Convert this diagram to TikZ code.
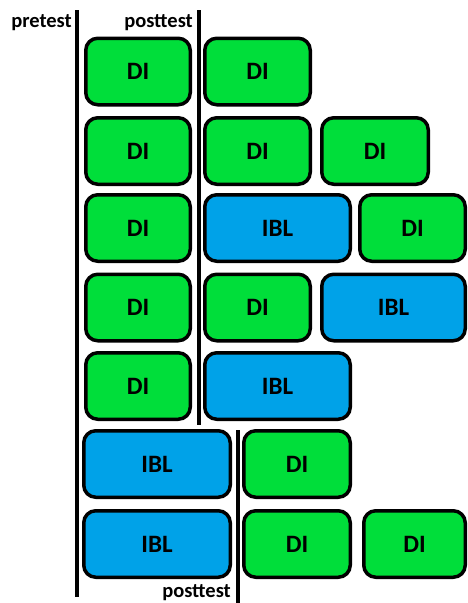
\documentclass[tikz,border=0pt]{standalone}
\usepackage{fontspec}
\setmainfont{Carlito}
\definecolor{digreen}{RGB}{0,222,58}
\definecolor{iblblue}{RGB}{0,162,232}
\begin{document}
\begin{tikzpicture}[x=1pt,y=-1pt,
  blk/.style={draw=black, line width=3.5pt, rounded corners=12pt, minimum height=66.5pt,
    inner sep=0pt, font=\fontsize{25}{25}\selectfont\bfseries},
  di/.style={blk, fill=digreen, minimum width=#1},
  ibl/.style={blk, fill=iblblue, minimum width=#1},
  lbl/.style={inner sep=0pt, anchor=base east, font=\fontsize{20.5}{20.5}\selectfont\bfseries},
  bar/.style={line width=4pt}]
\useasboundingbox (0,0) rectangle (467,603);
% labels
\node[lbl] (pre) at (72,27.5) {pretest};
\node[lbl] (post1) at (193,27.5) {posttest};
\node[lbl] (post2) at (231,597.5) {posttest};
% bars
\coordinate (p1) at (77,10); \coordinate (p2) at (77,597);
\coordinate (q1) at (198.5,10); \coordinate (q2) at (198.5,425);
\coordinate (r1) at (237.5,430); \coordinate (r2) at (237.5,603);
\draw[bar] (p1) -- (p2);
\draw[bar] (q1) -- (q2);
\draw[bar] (r1) -- (r2);
% row 1
\node[di=104.5pt] (a1) at (138,71.5) {DI};
\node[di=105.5pt] (b1) at (257.5,71.5) {DI};
% row 2
\node[di=104.5pt] (a2) at (138,151) {DI};
\node[di=105.5pt] (b2) at (257.5,151) {DI};
\node[di=106.5pt] (c2) at (375,151) {DI};
% row 3
\node[di=104.5pt] (a3) at (138,228) {DI};
\node[ibl=145.5pt] (b3) at (277.5,228) {IBL};
\node[di=105.5pt] (c3) at (412.5,228) {DI};
% row 4
\node[di=104.5pt] (a4) at (138,307.5) {DI};
\node[di=105.5pt] (b4) at (257.5,307.5) {DI};
\node[ibl=143.5pt] (c4) at (393.5,307.5) {IBL};
% row 5
\node[di=104.5pt] (a5) at (138,386) {DI};
\node[ibl=145.5pt] (b5) at (277.5,386) {IBL};
% row 6
\node[ibl=146.5pt] (a6) at (157,464) {IBL};
\node[di=106.5pt] (b6) at (297,464) {DI};
% row 7
\node[ibl=146.5pt] (a7) at (157,544) {IBL};
\node[di=106.5pt] (b7) at (297,544) {DI};
\node[di=101.5pt] (c7) at (414.5,544) {DI};
\end{tikzpicture}
\end{document}
